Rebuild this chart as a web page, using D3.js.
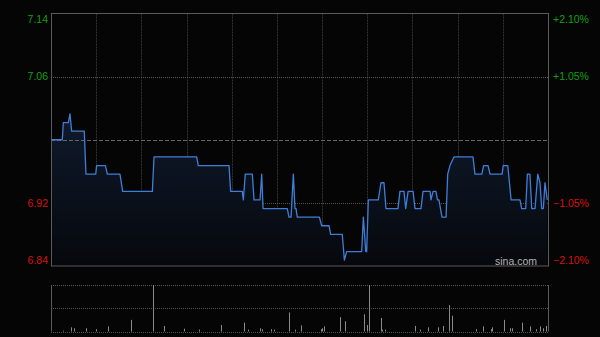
<!DOCTYPE html>
<html>
<head>
<meta charset="utf-8">
<script src="https://cdn.jsdelivr.net/npm/d3@7/dist/d3.min.js"></script>
<style>
  html, body { margin: 0; padding: 0; background: #050505; }
  svg { display: block; }
</style>
</head>
<body>
<div id="chart"></div>
<script>
// previous close and axis ticks (percent from previous close)
const prevClose = 6.99;
const pctTicks = [2.10, 1.05, -1.05, -2.10];

// price line vertices: minute of trading day (0..330) and price
const minutes = [0, 7.5, 8.2, 11.5, 12.6, 13.7, 22.1, 23.2, 29.7, 30.3, 36.1, 37.4, 45.8, 47.6,
    67.3, 68.4, 96.7, 97.8, 118.2, 119.3, 127, 127.7, 129, 133.7, 134.8, 138.8, 139.9, 140.8,
    156.9, 158, 159.4, 160.9, 162, 162.7, 163.5, 178.2, 179.7, 184.6, 185.7, 193.4, 194.8, 196.3,
    206.3, 207.4, 209, 209.6, 210.7, 217.3, 219.1, 221.1, 222.4, 230.4, 231.7, 234.4, 235.5, 237.1,
    240.4, 241.7, 245.7, 247, 251.7, 252.3, 253.7, 255.6, 256.6, 257.6, 259.6, 262.3, 263.4, 264.9,
    267.6, 280.2, 281.5, 286.1, 287.2, 290.2, 291.5, 299.5, 300.3, 303.3, 305.5, 311.4, 312.5, 315.2,
    316.3, 318, 319.2, 321.4, 323.2, 324.7, 325.8, 326.9, 328, 329.5];
const prices = [6.99, 6.99, 7.01, 7.01, 7.02, 7.00, 7.00, 6.95, 6.95, 6.96, 6.96, 6.95, 6.95, 6.93,
    6.93, 6.97, 6.97, 6.96, 6.96, 6.93, 6.93, 6.92, 6.95, 6.95, 6.92, 6.92, 6.95, 6.91,
    6.91, 6.90, 6.90, 6.95, 6.91, 6.91, 6.90, 6.90, 6.89, 6.89, 6.88, 6.88, 6.85, 6.86,
    6.86, 6.90, 6.86, 6.86, 6.92, 6.92, 6.94, 6.94, 6.91, 6.91, 6.93, 6.93, 6.91, 6.93,
    6.93, 6.91, 6.91, 6.93, 6.93, 6.92, 6.93, 6.93, 6.92, 6.92, 6.90, 6.90, 6.95, 6.96,
    6.97, 6.97, 6.95, 6.95, 6.96, 6.96, 6.95, 6.95, 6.96, 6.96, 6.92, 6.92, 6.91, 6.91,
    6.95, 6.95, 6.91, 6.91, 6.95, 6.94, 6.91, 6.91, 6.94, 6.92];

// volume bars (relative units, max = 100)
const volMinutes = [8, 13, 15, 23, 30, 38, 53, 68, 75, 88, 98, 113, 128, 131, 139, 140, 146, 148,
    158, 162, 166, 179, 180, 181, 192, 195, 208, 210, 211, 219, 220, 222, 242, 245, 250, 257, 260,
    264, 266, 282, 287, 292, 293, 301, 305, 306, 313, 318, 322, 325, 327, 329];
const volumes = [2, 9, 7, 7, 5, 11, 25, 100, 12, 6, 4, 14, 19, 4, 7, 5, 5, 4,
    41, 4, 13, 5, 7, 11, 31, 22, 37, 14, 100, 29, 4, 4, 12, 4, 9, 9, 12,
    57, 34, 5, 11, 5, 9, 25, 7, 7, 19, 11, 5, 11, 7, 12];

const width = 600, height = 337;
const plotLeft = 51, plotRight = 548, plotTop = 13.5, plotBottom = 266;
const vTop = 285, vBottom = 331.5;

const svg = d3.select("#chart").append("svg")
    .attr("width", width)
    .attr("height", height);

const x = d3.scaleLinear().domain([0, 330]).range([plotLeft, plotRight]);
const y = d3.scaleLinear()
    .domain([prevClose * (1 - 0.021), prevClose * (1 + 0.021)])
    .range([plotBottom, plotTop]);
const yv = d3.scaleLinear().domain([0, 100]).range([vBottom, vTop]);

const defs = svg.append("defs");
const grad = defs.append("linearGradient")
    .attr("id", "fill").attr("x1", 0).attr("y1", 0).attr("x2", 0).attr("y2", 1);
grad.append("stop").attr("offset", "0%").attr("stop-color", "#0f1a2c");
grad.append("stop").attr("offset", "100%").attr("stop-color", "#06080c");

// vertical grid, every 30 minutes
svg.append("g").selectAll("line")
    .data(d3.range(30, 330, 30))
    .enter().append("line")
    .attr("x1", d => Math.round(x(d)) + 0.5)
    .attr("x2", d => Math.round(x(d)) + 0.5)
    .attr("y1", plotTop).attr("y2", plotBottom)
    .attr("stroke", "#333")
    .attr("stroke-dasharray", "2,1");

// horizontal grid
svg.append("g").selectAll("line")
    .data(pctTicks.filter(d => Math.abs(d) < 2))
    .enter().append("line")
    .attr("x1", plotLeft).attr("x2", plotRight)
    .attr("y1", d => Math.round(y(prevClose * (1 + d / 100))) + 0.5)
    .attr("y2", d => Math.round(y(prevClose * (1 + d / 100))) + 0.5)
    .attr("stroke", "#555")
    .attr("stroke-dasharray", "1,1");

// area + line
const area = d3.area()
    .x((d, i) => x(minutes[i]))
    .y0(plotBottom)
    .y1((d, i) => y(prices[i]));
svg.append("path")
    .datum(prices)
    .attr("d", area)
    .attr("fill", "url(#fill)");

// previous close line
svg.append("line")
    .attr("x1", plotLeft).attr("x2", plotRight)
    .attr("y1", Math.round(y(prevClose)) + 0.5)
    .attr("y2", Math.round(y(prevClose)) + 0.5)
    .attr("stroke", "#666")
    .attr("stroke-dasharray", "4,2");

const line = d3.line()
    .x((d, i) => x(minutes[i]))
    .y((d, i) => y(prices[i]));
svg.append("path")
    .datum(prices)
    .attr("d", line)
    .attr("fill", "none")
    .attr("stroke", "#3f7ed8")
    .attr("stroke-width", 1.3)
    .attr("stroke-linejoin", "round");

// frame
svg.append("rect")
    .attr("x", plotLeft + 0.5).attr("y", plotTop)
    .attr("width", plotRight - plotLeft).attr("height", plotBottom - plotTop)
    .attr("fill", "none")
    .attr("stroke", "#5a5a5a");

// axis labels
const fmt = d3.format(".2f");
const labelY = (d, i) => {
    const yy = y(prevClose * (1 + d / 100));
    if (i === 0) return yy + 6;
    if (i === pctTicks.length - 1) return yy - 6;
    return yy;
};
const labelColor = d => d > 0 ? "#12a012" : "#d81010";

svg.append("g").selectAll("text")
    .data(pctTicks)
    .enter().append("text")
    .attr("x", plotLeft - 3)
    .attr("y", labelY)
    .attr("dy", "0.35em")
    .attr("text-anchor", "end")
    .attr("fill", labelColor)
    .style("font", "10.5px 'Liberation Sans', Arial, sans-serif")
    .text(d => fmt(prevClose * (1 + d / 100)));

svg.append("g").selectAll("text")
    .data(pctTicks)
    .enter().append("text")
    .attr("x", plotRight + 5)
    .attr("y", labelY)
    .attr("dy", "0.35em")
    .attr("text-anchor", "start")
    .attr("fill", labelColor)
    .style("font", "10.5px 'Liberation Sans', Arial, sans-serif")
    .text(d => (d > 0 ? "+" : "") + fmt(d) + "%");

// watermark
svg.append("text")
    .attr("x", 537).attr("y", 264.5)
    .attr("text-anchor", "end")
    .attr("fill", "#b4b4b4")
    .style("font", "10.5px 'Liberation Sans', Arial, sans-serif")
    .text("sina.com");

// volume panel
const vg = svg.append("g");
[vTop, (vTop + vBottom) / 2, vBottom].forEach(v => {
    vg.append("line")
        .attr("x1", plotLeft).attr("x2", plotRight)
        .attr("y1", Math.round(v) + 0.5).attr("y2", Math.round(v) + 0.5)
        .attr("stroke", "#555")
        .attr("stroke-dasharray", "1,1");
});
[plotLeft, plotRight].forEach(v => {
    vg.append("line")
        .attr("x1", v + 0.5).attr("x2", v + 0.5)
        .attr("y1", vTop).attr("y2", vBottom)
        .attr("stroke", "#5a5a5a");
});

vg.selectAll("rect.vol")
    .data(volumes)
    .enter().append("rect")
    .attr("class", "vol")
    .attr("x", (d, i) => Math.round(x(volMinutes[i])))
    .attr("width", 1)
    .attr("y", d => yv(d))
    .attr("height", d => vBottom - yv(d))
    .attr("fill", "#8a8a8a");
</script>
</body>
</html>
